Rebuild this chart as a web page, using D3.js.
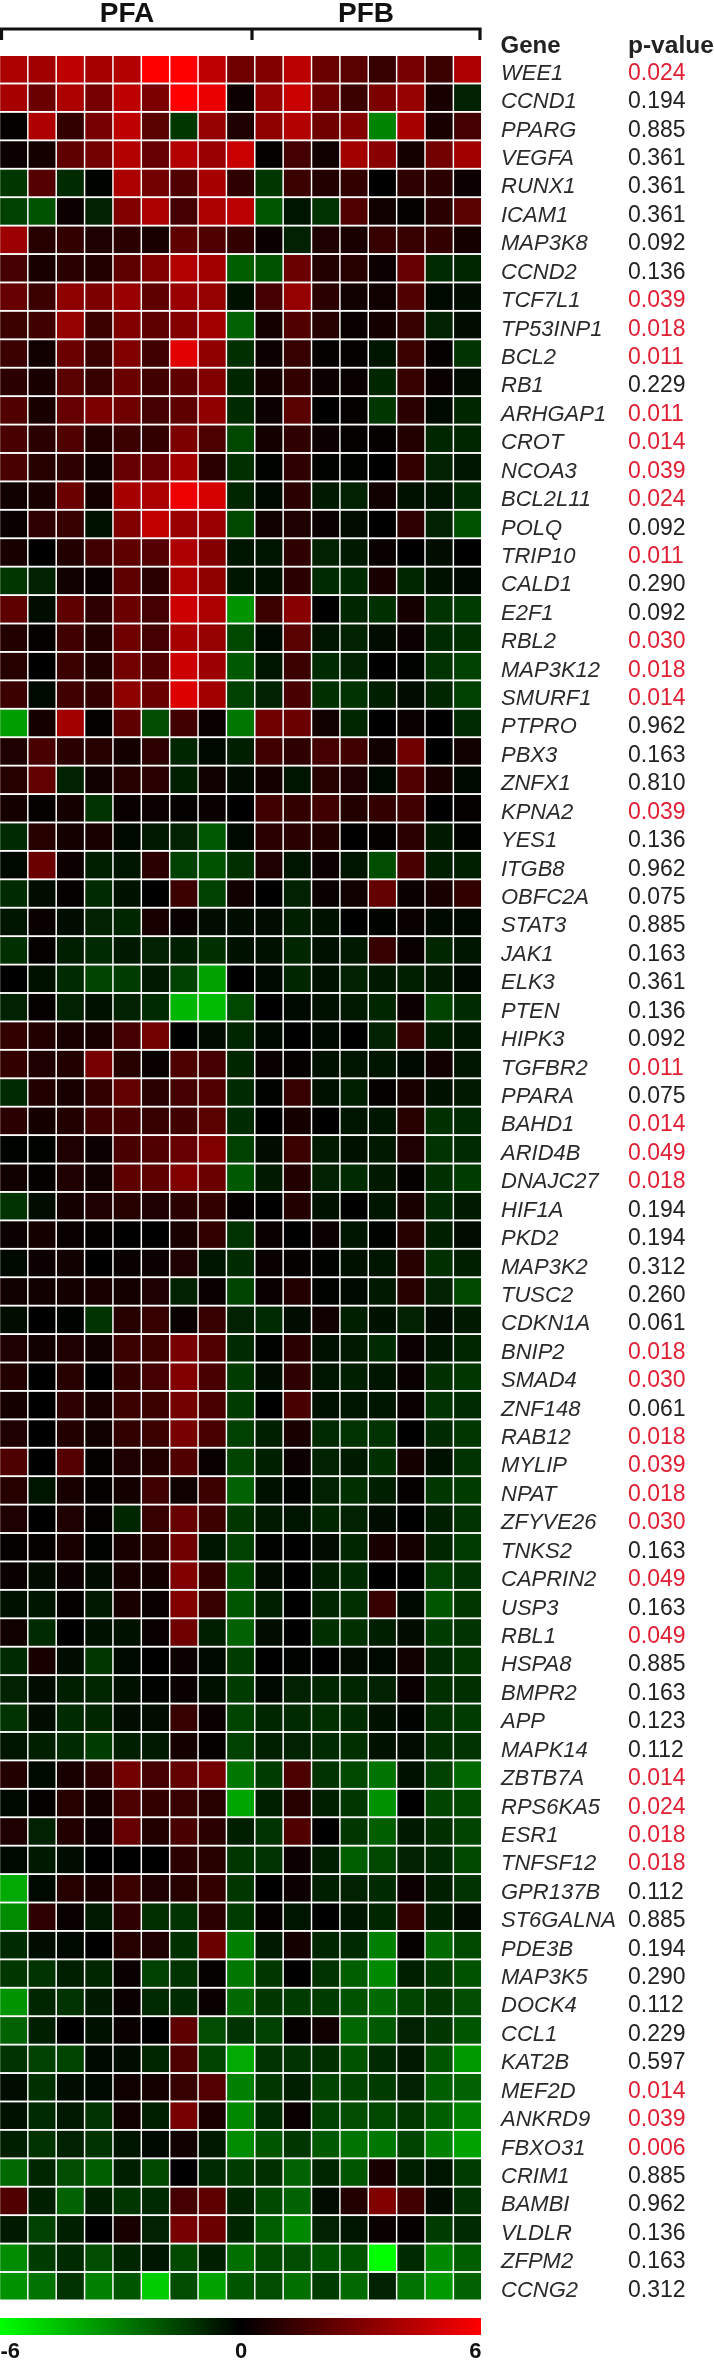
<!DOCTYPE html>
<html><head><meta charset="utf-8">
<script src="https://cdnjs.cloudflare.com/ajax/libs/d3/7.8.5/d3.min.js"></script>
<style>html,body{margin:0;padding:0;background:#fff;overflow:hidden}svg{display:block;filter:blur(0.45px)}text{font-family:"Liberation Sans",Arial,sans-serif}</style>
</head><body><svg id="c" width="714" height="2360"></svg>
<script>
const genes=["WEE1","CCND1","PPARG","VEGFA","RUNX1","ICAM1","MAP3K8","CCND2","TCF7L1","TP53INP1","BCL2","RB1","ARHGAP1","CROT","NCOA3","BCL2L11","POLQ","TRIP10","CALD1","E2F1","RBL2","MAP3K12","SMURF1","PTPRO","PBX3","ZNFX1","KPNA2","YES1","ITGB8","OBFC2A","STAT3","JAK1","ELK3","PTEN","HIPK3","TGFBR2","PPARA","BAHD1","ARID4B","DNAJC27","HIF1A","PKD2","MAP3K2","TUSC2","CDKN1A","BNIP2","SMAD4","ZNF148","RAB12","MYLIP","NPAT","ZFYVE26","TNKS2","CAPRIN2","USP3","RBL1","HSPA8","BMPR2","APP","MAPK14","ZBTB7A","RPS6KA5","ESR1","TNFSF12","GPR137B","ST6GALNA","PDE3B","MAP3K5","DOCK4","CCL1","KAT2B","MEF2D","ANKRD9","FBXO31","CRIM1","BAMBI","VLDLR","ZFPM2","CCNG2"];
const pValues=["0.024","0.194","0.885","0.361","0.361","0.361","0.092","0.136","0.039","0.018","0.011","0.229","0.011","0.014","0.039","0.024","0.092","0.011","0.290","0.092","0.030","0.018","0.014","0.962","0.163","0.810","0.039","0.136","0.962","0.075","0.885","0.163","0.361","0.136","0.092","0.011","0.075","0.014","0.049","0.018","0.194","0.194","0.312","0.260","0.061","0.018","0.030","0.061","0.018","0.039","0.018","0.030","0.163","0.049","0.163","0.049","0.885","0.163","0.123","0.112","0.014","0.024","0.018","0.018","0.112","0.885","0.194","0.290","0.112","0.229","0.597","0.014","0.039","0.006","0.885","0.962","0.136","0.163","0.312"];
const samples=["A1","A2","A3","A4","A5","A6","A7","A8","B1","B2","B3","B4","B5","B6","B7","B8","B9"];
const groups=["PFA","PFB"];
const legendTicks=[-6,0,6];
const expression=[
[4,3.8,4.5,3.9,4.2,6,6,4.5,2.6,3,4.4,2.5,2.1,1.3,2.8,1.4,4.1],
[3.9,2.5,4,2.8,4.5,2.9,6,5.5,0.3,3.5,4.7,2.6,1.4,2.9,3.5,0.6,-0.8],
[0.1,4.1,1.2,2.8,4.5,2.1,-1.3,3.5,0.7,3.3,4.2,2.6,3.1,-3.1,3.9,0.6,1.6],
[0.3,0.5,2.2,2.7,4.2,2.4,4.2,3.6,4.7,0.1,1.6,0.4,3.8,3.2,0.5,2.7,3.8],
[-1.3,2,-1,-0.1,4,2.7,1.9,3.9,1.1,-1.3,1.4,0.8,1.2,0,1.1,1,0.3],
[-1.5,-1.9,0.3,-0.8,3,4,1.6,4,4.4,-2,-0.5,-1.2,1.9,0.4,0.1,1,2.1],
[3.7,0.9,1.2,0.7,1,0.6,2.2,1.9,1.2,0.2,-0.8,0.7,0.6,1.3,1.3,1.2,0.5],
[1.6,0.6,1,0.8,2.2,3,4.2,3.8,-2.2,-1.9,2.5,0.8,0.9,0.3,2.4,-1,-0.9],
[2.4,1.4,3.3,2.9,3.6,2.2,3.6,3.5,-0.4,1.6,3.5,1,0.4,0.4,1.9,-0.2,-0.3],
[1.4,1.5,3.5,1.4,3,2.2,3.1,3.8,-2.3,0.5,1.9,0.9,0.2,0.5,1.3,-0.8,-0.3],
[1.4,0.4,2.5,1.4,3,1.5,5.3,3.4,-1.1,0.3,1.3,0.1,0.1,-0.5,1.4,0.1,-1.2],
[1,0.6,2.1,1.3,2.5,1.5,2.2,3,-0.9,0.5,1.2,0.3,0.2,-0.9,1.3,0.2,-0.3],
[1.9,0.6,2.4,2.9,2.6,1.6,2.2,3.4,-1,0.3,2.1,0,0.1,-1.3,1,-0.2,-0.9],
[1.7,1,1.9,0.8,1.4,1.2,2.9,1.8,-1.7,0.5,1.1,0.3,0.1,0.1,0.8,-0.9,-0.9],
[1.7,0.9,1.1,0.4,2.4,2.4,3.8,1,-1.1,-0.1,1.1,-0.1,-0.1,0,1.2,-0.8,-0.5],
[0.4,0.6,2.5,0.5,3.9,4,5.6,5,-0.9,-0.2,1,-0.6,-0.8,0.4,-0.4,-0.5,-1],
[0.2,1.1,1.3,-0.4,3,4.6,3.6,3.6,-1.7,0.4,0.7,0.2,-0.3,0,1.1,-0.8,-1.9],
[0.6,0,0.8,1.5,2.2,2,4.1,3.1,-0.5,-0.5,1.1,-0.8,-0.6,0.2,0,-0.3,0],
[-1.3,-0.8,0.4,0.2,2.2,1,4,3.3,-0.5,-0.4,1,-1,-1,0.6,-0.9,-0.4,-0.2],
[2.2,-0.3,2.2,1.1,2.5,1.6,4.8,4,-3.5,1.4,3.2,0,-0.9,-1.1,0.5,-1.2,-1.4],
[0.8,0.1,1.5,0.8,2.6,1.6,3.9,3.5,-1.7,-0.2,2.1,-0.5,-0.8,-0.3,0.3,-1,-1.1],
[0.9,0,1.4,0.8,2.7,1.9,4.8,3.7,-2.1,-0.5,1.4,-1,-0.8,0,-0.1,-1.2,-1.5],
[1.4,-0.2,1.5,1.2,3.3,2.5,5.2,3.8,-1.5,-0.8,1.7,-1.1,-1.2,-0.7,-0.3,-0.9,-1.5],
[-3.7,0.5,3.8,0.1,2.2,-1.8,1.5,0.2,-2.8,2.6,2.5,0.4,-0.9,0,0.2,0,-1],
[0.7,1.7,1,0.9,0.5,1.1,-0.9,-0.2,-0.7,1.5,1.1,1.6,1.5,0.4,2.6,0,0.4],
[0.9,2.3,-0.8,0.4,0.9,1,-0.7,0.4,-0.3,0.5,-0.5,0.9,0.7,-0.2,1.9,0.6,-0.2],
[0.5,0.1,0.5,-1.2,0.2,0.3,0.1,0.2,0,1.5,1.2,1.5,0.8,1.2,1.5,0,0.1],
[-1,0.9,0.5,0.6,-0.2,-0.6,-0.8,-2.1,-0.2,1,1,0.8,0,0.1,1,-0.6,-0.1],
[-0.2,2.5,0.3,-0.7,-0.5,1,-1.5,-1.9,-1.1,0.7,-0.5,0.3,-0.5,-1.8,1.7,-0.7,-0.7],
[-1,-0.3,0.1,-1,-0.4,0,1.4,-1.5,0.4,0,-0.8,0.2,0.4,2.3,0.2,0.6,1.2],
[-0.5,0.2,-0.3,-0.8,-0.9,0.6,0.2,-0.3,-0.3,-0.3,-0.7,-0.4,0,-0.1,0.2,-0.2,-0.2],
[-1.1,0.1,-0.7,-1,-0.6,-0.8,-0.7,-1.1,-0.4,-0.4,-0.9,-0.4,-0.6,1.3,0.2,-0.9,-0.5],
[0,-0.4,-1,-1.6,-1.4,-0.6,-1.5,-3.8,0,-0.2,-0.9,-0.4,-0.8,-0.6,-0.7,-0.6,-0.2],
[-0.8,0.1,-0.8,-0.4,-0.8,-1,-4.3,-4.4,-1.7,0,-0.2,-0.4,-0.6,-0.9,0.3,-1.6,-1],
[1.2,0.8,0.6,0.6,1.6,2.7,0,-0.3,-0.9,-0.2,0,-0.2,0,-0.8,1.3,-0.7,-0.5],
[1.2,0.7,0.8,2.8,0.9,0.2,1.8,1.6,-0.9,0.2,0.1,-0.4,-0.5,-0.5,-0.2,0.4,-0.5],
[-1,0.8,0.6,1.2,2.3,1,1.6,1.9,-1,-0.1,1.3,-0.4,-0.7,0.1,0.6,-0.4,-0.6],
[1,0.5,0.8,1.5,1.7,1.3,1.5,2.1,-1,0,0.5,0,-0.5,-0.5,0.9,-1.1,-1],
[-0.1,-0.1,0.7,0.3,1.7,1.9,2.4,3,-1.5,-0.3,1.4,-0.6,-0.4,-0.6,0.7,-1.2,-1],
[0.4,0.1,0.7,0.4,2.2,2.2,3,2.5,-2.1,-0.6,0.8,-0.8,-1,-0.6,0.1,-1.1,-1.4],
[-1.2,-0.3,0.5,0.7,0.9,0.7,1,1.2,0.1,0,0.8,-0.4,0,-0.5,0.6,-1,-0.6],
[0.3,0.5,0.2,0.1,0,0,0.6,1.2,-1.2,0.2,0,0.3,-0.5,-0.1,0.9,-0.7,-0.3],
[-0.2,0.3,0.4,0,0.2,0.3,0.7,-0.5,-1,0.2,0.1,-0.1,-0.4,-0.5,0.9,-1.1,-0.7],
[0.4,0.4,0.5,0.6,0.5,0.7,-0.8,0.2,-1.6,0.2,0.8,-0.1,-0.2,-0.6,0.9,-0.8,-1.7],
[-0.3,0,-0.1,-1.2,0.9,1.3,0.2,1.3,-0.8,-1,-0.3,0.4,-0.7,-0.4,-0.8,-0.3,-0.6],
[0.7,0.4,0.7,0.4,1.4,1.4,2.8,1.9,-1,-0.1,1,-0.4,-0.6,-1,0.3,-0.5,-0.9],
[0.8,0,0.9,0,1.2,1.6,3,1.7,-1.4,-0.3,1.1,-0.5,-0.7,-0.5,0.2,-1.1,-1.3],
[0.5,0,1.1,0.6,1.4,1.4,2.7,1.7,-1.4,0,1.7,-0.4,-0.5,-0.5,0.2,-1.2,-1],
[0.7,0,0.8,0.4,1.2,1.4,2.8,1.7,-1.5,-0.7,0.6,-1,-1.2,-1.2,0,-1,-1.3],
[1.8,0,2,0.1,0.7,0.8,1.9,0.2,-1.6,-0.7,0.3,-0.8,-0.6,-1.1,0.5,-0.4,-1.2],
[0.9,-0.5,0.6,0.1,0.5,1.5,0.4,1.4,-2.3,-0.4,-0.1,-0.8,-1.1,-0.7,0.1,-1.3,-1.4],
[0.7,0,0.7,0.1,-0.9,1.3,2.4,1.4,-1.3,-0.6,-0.5,-0.9,-0.8,-0.3,0,-0.7,-1.2],
[0.1,0.1,0.6,-0.1,0.6,0.9,2.6,-0.5,-1.5,-0.1,0,-0.3,-0.9,0.6,0.5,-0.9,-1.4],
[0.2,-0.3,0.3,-0.3,0.6,0.5,3,1.2,-1.9,-0.3,0,-0.7,-1,0,0,-1.5,-1.2],
[-0.4,-0.5,0.1,-0.6,0.6,0.2,3,1.3,-2,-0.7,0,-0.9,-1.1,1.3,-0.2,-2,-1.3],
[0.4,-1,0,-0.4,-0.4,0.2,2.6,-0.7,-2.3,-0.3,0,-1.1,-1.1,-0.7,-0.3,-1.4,-1.2],
[-1,0.6,-0.3,-1.3,-0.2,0,0.3,-0.2,-1.4,0,-0.1,0,-0.3,-0.2,0.4,-1,-1.3],
[-0.8,-0.3,-0.7,-0.9,-0.4,-0.1,0.2,-0.4,-1.4,-0.2,-0.8,-0.9,-0.9,-0.8,0.2,-1.1,-1.1],
[-1.2,-0.3,-1,-0.9,-0.3,-0.3,1.3,0.2,-1.6,-0.9,-1,-1.1,-1,-0.4,-0.1,-1.2,-1.4],
[-0.5,-0.7,-1,-1.4,-0.7,-0.6,0.5,0.1,-1.5,-0.7,-0.8,-1,-1.1,-0.4,-0.3,-1.1,-1.2],
[0.8,-0.2,0.6,1,2.7,1.6,2.3,2.7,-2.8,-1.4,1.8,-1.2,-1.7,-2.7,-0.4,-1.5,-2.5],
[-0.2,0.1,0.9,0.5,1.8,1.2,1.3,0.9,-3.9,-0.7,0.9,-0.7,-1.3,-3.4,0,-1.6,-1.7],
[0.7,-0.8,0.8,0.3,2.4,0.8,1.7,1,-0.7,-1.2,1.9,0,-1.3,-2.2,-0.6,-1.1,-1.6],
[-0.2,-0.6,-0.3,0,0,0,1,0.9,-1.3,-1.2,0.3,-0.7,-2.2,-1.7,-0.8,-1,-1.7],
[-4,-0.2,0.9,0.6,1.4,0.7,0.9,1.2,-1.3,0,0.3,-0.7,-0.8,-1,0.3,-0.7,-1.2],
[-3.3,1.1,0.2,-0.6,1.1,-1.1,-1.2,1,-1.4,0.1,-0.5,0,-0.5,-0.9,1.2,-0.7,-0.3],
[-1,-0.3,-0.2,0,0.9,0.7,-1.1,2.5,-3,-0.6,0.5,-0.9,-1,-3,0.1,-2.5,-1.7],
[-1.3,-1.2,-0.7,-0.9,0.2,-1.5,-1.2,0.1,-2.8,-1.3,0,-1.2,-2.2,-3.2,-0.7,-1.4,-1.9],
[-3.5,-0.9,-1.2,-0.6,0.2,-1,-1,0.2,-2.5,-1.3,-1.4,-1.4,-1.9,-2.5,-1.6,-1.3,-1.8],
[-2.3,-0.7,0,-0.4,0.2,0,2.2,-1.8,-1.2,-1.5,0.1,0.4,-2.4,-2.1,-0.8,-1.3,-2],
[-1.2,-1.5,-1.6,-0.2,-0.3,-0.9,1.8,-1.6,-4,-1.2,-1.2,-1.1,-1.9,-1,-0.6,-2,-3.6],
[-0.3,-1.1,-0.3,-0.2,0.4,0.5,1.3,2,-3,-1.3,-0.7,-1.6,-1.6,-1.4,-0.8,-2.2,-2.3],
[-0.4,-1,-0.6,-1.2,0.4,-0.7,2.8,0.6,-3.2,-1,0.2,-1.5,-1.8,-1.7,-1.3,-2.2,-3],
[-0.7,-1.2,-0.8,-1.2,-0.5,-0.2,0.4,-0.6,-3.3,-2,-1.3,-2.1,-2.7,-2.8,-1.6,-3,-3.8],
[-2.5,-0.9,-1.8,-2.2,-0.7,-1.7,0,-1,-1.4,-1.1,-2.3,-0.9,-2,0.6,-0.7,-0.5,-1.4],
[1.9,-0.7,-2.3,-0.7,-1.3,-1,1.6,2.2,-0.9,-1.7,-2.3,-0.3,0.8,3,1.5,-0.3,-1.2],
[-0.6,-1.5,-0.7,0,0.6,-0.8,2.8,2.5,-0.9,-2.2,-3.2,-0.8,-0.5,0.2,0.1,-1.4,-1],
[-3.3,-1.4,-1,-1.8,-0.9,-0.5,-1.7,-0.7,-2.6,-1.7,-1.8,-2,-1.9,-6,-1,-3.2,-2.2],
[-3.4,-2.7,-1.2,-3,-2,-4.8,-1.8,-3.8,-2,-1.8,-2.6,-1.4,-2.5,-0.8,-2.7,-3.6,-2.3]
];

const svg=d3.select("#c");
const x=d3.scaleBand().domain(samples).range([0.2,481]).paddingInner(0.052);
const y=d3.scaleBand().domain(genes).range([56,2299.5]).paddingInner(0.065);
const color=d3.scaleLinear().domain(legendTicks).range(["#00ff00","#000000","#ff0000"]);

// heatmap
const rows=svg.append("g").selectAll("g").data(expression).join("g")
  .attr("transform",(d,i)=>`translate(0,${y(genes[i])})`);
rows.selectAll("rect").data(d=>d).join("rect")
  .attr("x",(d,j)=>x(samples[j])).attr("y",0)
  .attr("width",x.bandwidth()).attr("height",y.bandwidth())
  .attr("fill",d=>color(d));

// group brackets
const groupX=d3.scalePoint().domain(["start","mid","end"]).range([1.5,480]);
const bracket=d3.path();
bracket.moveTo(groupX("start"),40);bracket.lineTo(groupX("start"),29);bracket.lineTo(groupX("end"),29);bracket.lineTo(groupX("end"),40);
bracket.moveTo(252,29);bracket.lineTo(252,40);
svg.append("path").attr("d",bracket.toString()).attr("fill","none").attr("stroke","#111").attr("stroke-width",3.2);
svg.selectAll(".grp").data(groups).join("text").attr("class","grp")
  .attr("x",(d,i)=>i===0?127:366).attr("y",21.5).attr("text-anchor","middle")
  .attr("font-size",28).attr("font-weight","bold").attr("fill","#111").text(d=>d);

// headers
svg.append("text").attr("x",500.5).attr("y",52.5).attr("font-size",24).attr("font-weight","bold").attr("fill","#222").text("Gene");
svg.append("text").attr("x",628).attr("y",52.5).attr("font-size",24.5).attr("font-weight","bold").attr("fill","#222").text("p-value");

// row labels
const bw=y.bandwidth()/2;
svg.append("g").selectAll("text").data(genes).join("text")
  .attr("x",501).attr("y",d=>y(d)+bw+10.5).attr("font-size",22).attr("font-style","italic").attr("fill","#2a2a2a").text(d=>d);
svg.append("g").selectAll("text").data(pValues).join("text")
  .attr("x",628).attr("y",(d,i)=>y(genes[i])+bw+10.5).attr("font-size",23)
  .attr("fill",d=>+d<0.05?"#e01f33":"#222").text(d=>d);

// legend
const legendX=d3.scaleLinear().domain(d3.extent(legendTicks)).range([0,481]);
const grad=svg.append("defs").append("linearGradient").attr("id","lg");
grad.selectAll("stop").data(legendTicks).join("stop")
  .attr("offset",d=>(legendX(d)/481*100)+"%").attr("stop-color",d=>color(d));
svg.append("rect").attr("x",legendX(-6)).attr("y",2318).attr("width",legendX(6)-legendX(-6)).attr("height",17).attr("fill","url(#lg)");
const ax=svg.append("g").attr("transform","translate(0,2335)")
  .call(d3.axisBottom(legendX).tickValues(legendTicks).tickSize(0).tickFormat(d=>String(d)));
ax.select(".domain").remove();
ax.selectAll("text").attr("dy",0).attr("y",22.5).attr("x",0).attr("font-size",22).attr("font-weight","bold").attr("font-family",'"Liberation Sans",Arial,sans-serif').attr("fill","#111")
  .attr("text-anchor",d=>d<0?"start":d>0?"end":"middle");
</script></body></html>
